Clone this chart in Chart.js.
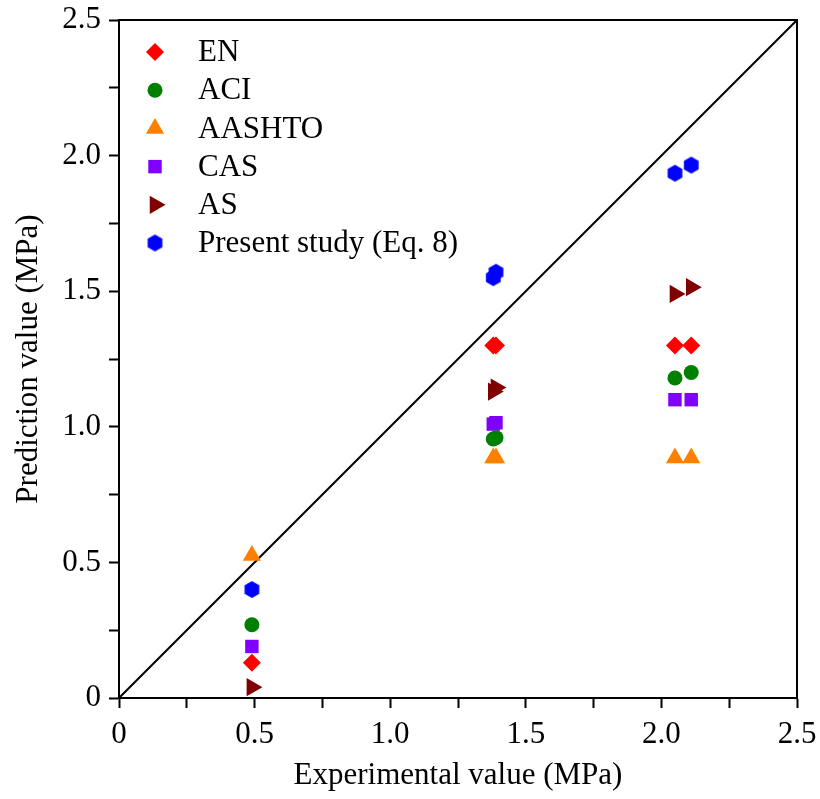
<!DOCTYPE html>
<html>
<head>
<meta charset="utf-8">
<script src="https://cdn.jsdelivr.net/npm/chart.js@4"></script>
<style>
  html, body { margin: 0; padding: 0; background: #fff; }
  #wrap { width: 820px; height: 799px; position: relative; }
</style>
</head>
<body>
<div id="wrap"><canvas id="chart"></canvas></div>
<script>
// experimental values (x) and predictions (y) per code
const expX = [0.49, 1.38, 1.39, 2.05, 2.11];
const seriesNames = ["EN", "ACI", "AASHTO", "CAS", "AS", "Present study (Eq. 8)"];
const enVals = [0.13, 1.30, 1.30, 1.30, 1.30];
const aciVals = [0.27, 0.955, 0.96, 1.18, 1.20];
const aashtoVals = [0.525, 0.885, 0.885, 0.885, 0.885];
const casVals = [0.19, 1.01, 1.015, 1.10, 1.10];
const asVals = [0.04, 1.13, 1.145, 1.49, 1.515];
const presentVals = [0.40, 1.55, 1.57, 1.935, 1.965];
const lineRange = [0, 2.5];
const tickStep = 0.25;

// hexagon marker drawn on a small canvas
function makeHexagon(r, color) {
  const c = document.createElement("canvas");
  const s = Math.ceil(r * 2) + 2;
  c.width = s;
  c.height = s;
  const g = c.getContext("2d");
  g.fillStyle = color;
  g.beginPath();
  for (let i = 0; i < 6; i++) {
    const a = Math.PI / 3 * i - Math.PI / 2;
    const px = s / 2 + r * Math.cos(a);
    const py = s / 2 + r * Math.sin(a);
    if (i === 0) g.moveTo(px, py); else g.lineTo(px, py);
  }
  g.closePath();
  g.fill();
  return c;
}

function toPoints(vals) {
  return vals.map((v, i) => ({ x: expX[i], y: v }));
}

const styles = [
  { color: "#ff0000", pointStyle: "rectRot", radius: 9, rotation: 0 },
  { color: "#008000", pointStyle: "circle", radius: 7.5, rotation: 0 },
  { color: "#ff8000", pointStyle: "triangle", radius: 10.5, rotation: 0 },
  { color: "#8000ff", pointStyle: "rect", radius: 9.5, rotation: 0 },
  { color: "#800000", pointStyle: "triangle", radius: 10.5, rotation: 90 },
  { color: "#0000ff", pointStyle: makeHexagon(8.5, "#0000ff"), radius: 8.5, rotation: 0 },
];
const allVals = [enVals, aciVals, aashtoVals, casVals, asVals, presentVals];

const datasets = allVals.map((vals, i) => ({
  type: "scatter",
  label: seriesNames[i],
  data: toPoints(vals),
  backgroundColor: styles[i].color,
  borderColor: styles[i].color,
  borderWidth: 0,
  pointStyle: styles[i].pointStyle,
  pointRadius: styles[i].radius,
  pointRotation: styles[i].rotation,
  order: 1,
}));

// y = x reference line
datasets.push({
  type: "line",
  label: "line",
  data: lineRange.map((v) => ({ x: v, y: v })),
  borderColor: "#000",
  borderWidth: 2,
  pointRadius: 0,
  order: 2,
});

const font = "'Liberation Serif', 'Times New Roman', serif";
const fontSize = 31;

// legend drawn inside the plot, top left
const innerLegend = {
  id: "innerLegend",
  afterDatasetsDraw(chart) {
    const ctx = chart.ctx;
    const area = chart.chartArea;
    ctx.save();
    ctx.font = fontSize + "px " + font;
    ctx.textBaseline = "middle";
    seriesNames.forEach((name, i) => {
      const y = area.top + 32 + i * 38.2;
      const x = area.left + 36;
      ctx.fillStyle = styles[i].color;
      Chart.helpers.drawPoint(ctx, {
        pointStyle: styles[i].pointStyle,
        radius: styles[i].radius,
        rotation: styles[i].rotation,
        borderWidth: 0,
      }, x, y);
      ctx.fillStyle = "#000";
      ctx.fillText(name, area.left + 79, y + 1);
    });
    ctx.restore();
  },
  afterDraw(chart) {
    const ctx = chart.ctx;
    const a = chart.chartArea;
    ctx.save();
    ctx.strokeStyle = "#000";
    ctx.lineWidth = 2;
    ctx.strokeRect(a.left, a.top, a.right - a.left, a.bottom - a.top);
    ctx.restore();
  },
};

function tickLabel(v) {
  if (Math.abs(v) < 1e-9) return "0";
  if (Math.abs(v * 2 - Math.round(v * 2)) < 1e-9) return v.toFixed(1);
  return "";
}

function buildTicks(s) {
  s.ticks = [];
  for (let v = 0; v <= 2.5 + 1e-9; v += tickStep) s.ticks.push({ value: +v.toFixed(2) });
}

new Chart(document.getElementById("chart"), {
  data: { datasets },
  options: {
    responsive: true,
    maintainAspectRatio: false,
    animation: false,
    layout: { padding: { top: 20, right: 23, left: 0, bottom: 0 } },
    plugins: { legend: { display: false }, tooltip: { enabled: false } },
    scales: {
      x: {
        type: "linear",
        min: 0,
        max: 2.5,
        afterFit: (s) => {
          s.height = 101;
          s.paddingLeft = 0;
          s.paddingRight = 0;
        },
        afterBuildTicks: buildTicks,
        grid: { drawOnChartArea: false, drawTicks: true, tickLength: 10, tickColor: "#000", tickWidth: 2 },
        border: { display: true, color: "#000", width: 2 },
        ticks: {
          autoSkip: false,
          maxRotation: 0,
          color: "#000",
          padding: 8,
          font: { family: font, size: fontSize },
          callback: tickLabel,
        },
        title: {
          display: true,
          text: "Experimental value (MPa)",
          color: "#000",
          font: { family: font, size: fontSize },
          padding: { top: 0, bottom: 5 },
        },
      },
      y: {
        type: "linear",
        min: 0,
        max: 2.5,
        afterFit: (s) => {
          s.width = 119;
          s.paddingTop = 0;
          s.paddingBottom = 0;
        },
        afterBuildTicks: buildTicks,
        grid: { drawOnChartArea: false, drawTicks: true, tickLength: 10, tickColor: "#000", tickWidth: 2 },
        border: { display: true, color: "#000", width: 2 },
        ticks: {
          autoSkip: false,
          color: "#000",
          padding: 8,
          font: { family: font, size: fontSize },
          callback: tickLabel,
        },
        title: {
          display: true,
          text: "Prediction value (MPa)",
          color: "#000",
          font: { family: font, size: fontSize },
          padding: { top: 10, bottom: 0 },
        },
      },
    },
  },
  plugins: [innerLegend],
});
</script>
</body>
</html>
